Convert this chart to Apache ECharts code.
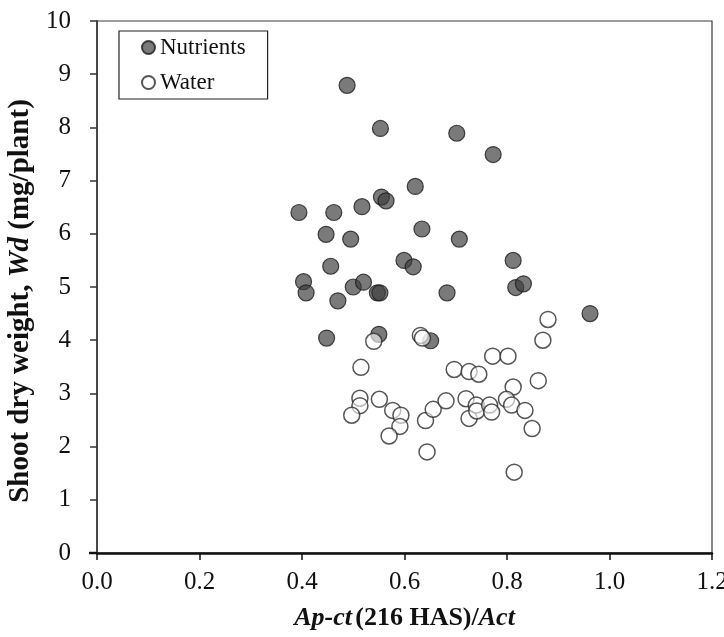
<!DOCTYPE html>
<html>
<head>
<meta charset="utf-8">
<script src="https://cdn.jsdelivr.net/npm/echarts@6/dist/echarts.min.js"></script>
<style>
  html, body { margin: 0; padding: 0; background: #fff; }
  #chart { width: 724px; height: 637px; }
</style>
</head>
<body>
<div id="chart"></div>
<script>
// Ap-ct (216 HAS)/Act ratio and shoot dry weight (mg/plant), nutrient treatment
const nutrientsRatio = [0.488, 0.553, 0.702, 0.773, 0.621, 0.555, 0.564, 0.517, 0.394, 0.462,
  0.634, 0.707, 0.812, 0.447, 0.495, 0.456, 0.599, 0.617, 0.403, 0.408,
  0.500, 0.520, 0.547, 0.552, 0.470, 0.683, 0.817, 0.832, 0.962, 0.448,
  0.550, 0.651];
const nutrientsWeight = [8.79, 7.98, 7.89, 7.49, 6.89, 6.69, 6.62, 6.51, 6.40, 6.40,
  6.09, 5.90, 5.50, 5.99, 5.90, 5.39, 5.50, 5.38, 5.10, 4.89,
  5.00, 5.09, 4.89, 4.89, 4.74, 4.89, 4.99, 5.06, 4.50, 4.04,
  4.11, 3.99];

// Water treatment
const waterRatio = [0.540, 0.631, 0.635, 0.880, 0.870, 0.515, 0.697, 0.726, 0.745, 0.772,
  0.802, 0.812, 0.861, 0.513, 0.513, 0.497, 0.551, 0.577, 0.593, 0.591,
  0.570, 0.641, 0.656, 0.681, 0.644, 0.720, 0.726, 0.740, 0.741, 0.766,
  0.770, 0.799, 0.809, 0.835, 0.849, 0.814];
const waterWeight = [3.98, 4.09, 4.04, 4.39, 4.00, 3.49, 3.45, 3.41, 3.36, 3.70,
  3.70, 3.12, 3.24, 2.91, 2.77, 2.59, 2.89, 2.68, 2.59, 2.38,
  2.20, 2.49, 2.70, 2.86, 1.90, 2.90, 2.53, 2.78, 2.67, 2.78,
  2.65, 2.89, 2.78, 2.68, 2.34, 1.52];

const xTicks = { min: 0, max: 1.2, step: 0.2 };
const yTicks = { min: 0, max: 10, step: 1 };

const pairs = (xs, ys) => xs.map((x, i) => [x, ys[i]]);
const serif = '"Liberation Serif", "DejaVu Serif", serif';

const titleRich = size => ({
  i: { fontFamily: serif, fontSize: size, fontWeight: 'bold', fontStyle: 'italic', color: '#111' },
  b: { fontFamily: serif, fontSize: size, fontWeight: 'bold', color: '#111' }
});

const chart = echarts.init(document.getElementById('chart'), null, { renderer: 'canvas' });
chart.setOption({
  animation: false,
  backgroundColor: '#fff',
  grid: {
    left: 97, right: 12, top: 21, bottom: 84,
    outerBoundsMode: 'none',
    containLabel: false,
    show: true, borderColor: '#3a3a3a', borderWidth: 1.2, backgroundColor: 'transparent'
  },
  legend: {
    left: 119, top: 31,
    orient: 'vertical',
    padding: [5, 22, 5, 22],
    itemGap: 12,
    itemWidth: 13, itemHeight: 13,
    borderColor: '#222', borderWidth: 1.2,
    backgroundColor: '#fff',
    textStyle: { fontFamily: serif, fontSize: 23, lineHeight: 23, color: '#111' },
    data: [
      { name: 'Nutrients', icon: 'circle' },
      { name: 'Water', icon: 'circle' }
    ]
  },
  xAxis: {
    type: 'value',
    min: xTicks.min, max: xTicks.max, interval: xTicks.step,
    name: '{i|Ap-ct} {b|(216 HAS)/}{i|Act}',
    nameLocation: 'middle', nameGap: 52,
    nameTextStyle: { rich: titleRich(26) },
    axisLine: { show: true, onZero: false, lineStyle: { color: '#111', width: 2.5 } },
    axisTick: { show: true, inside: false, length: 7, lineStyle: { color: '#111', width: 1.5 } },
    axisLabel: {
      margin: 17, fontFamily: serif, fontSize: 25, color: '#111',
      formatter: v => v.toFixed(1)
    },
    splitLine: { show: false }
  },
  yAxis: {
    type: 'value',
    min: yTicks.min, max: yTicks.max, interval: yTicks.step,
    name: '{b|Shoot dry weight, }{i|Wd}{b| (mg/plant)}',
    nameLocation: 'middle', nameGap: 53, nameRotate: 90,
    nameTextStyle: { rich: titleRich(29), padding: [0, 28, 0, 0] },
    axisLine: { show: true, onZero: false, lineStyle: { color: '#333', width: 1.5 } },
    axisTick: { show: true, inside: false, length: 7, lineStyle: { color: '#333', width: 1.5 } },
    axisLabel: { margin: 26, fontFamily: serif, fontSize: 25, color: '#111' },
    splitLine: { show: false }
  },
  series: [
    {
      name: 'Nutrients',
      type: 'scatter',
      symbol: 'circle',
      symbolSize: 16,
      data: pairs(nutrientsRatio, nutrientsWeight),
      itemStyle: { color: 'rgba(60,60,60,0.85)', borderColor: '#1c1c1c', borderWidth: 1.2 },
      z: 2
    },
    {
      name: 'Water',
      type: 'scatter',
      symbol: 'circle',
      symbolSize: 16,
      data: pairs(waterRatio, waterWeight),
      itemStyle: { color: 'rgba(255,255,255,0.75)', borderColor: '#2a2a2a', borderWidth: 1.5 },
      z: 3
    }
  ]
});

// the x axis line runs a little past the y axis on the left
const origin = chart.convertToPixel({ gridIndex: 0 }, [xTicks.min, yTicks.min]);
chart.setOption({
  graphic: [{
    type: 'line',
    shape: { x1: origin[0] - 8, y1: origin[1], x2: origin[0], y2: origin[1] },
    style: { stroke: '#111', lineWidth: 2.5 },
    z: 10
  }]
});
</script>
</body>
</html>
